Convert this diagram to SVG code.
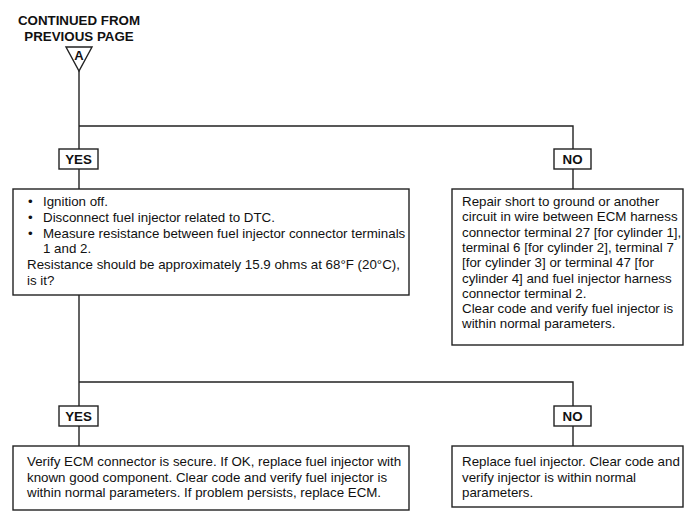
<svg xmlns="http://www.w3.org/2000/svg" width="700" height="530" viewBox="0 0 700 530">
<style>
text{font-family:"Liberation Sans",Arial,sans-serif;font-size:13.33px;fill:#111}
.lbl{font-weight:bold;text-anchor:middle}
.box{fill:#fff;stroke:#222;stroke-width:1.4}
.ln{fill:none;stroke:#222;stroke-width:1.4}
</style>
<rect width="700" height="530" fill="#fff"/>
<g id="connectors">
<path class="ln" d="M79 71V189M79 126H573V189M79 295V446M79 382H573V446"/>
</g>
<g id="start">
<text class="lbl" x="79" y="25">CONTINUED FROM</text>
<text class="lbl" x="79" y="41">PREVIOUS PAGE</text>
<polygon class="box" points="66,47 92,47 79,71"/>
<text class="lbl" x="79" y="60" style="font-size:13px">A</text>
</g>
<g id="yes1"><rect class="box" x="59" y="149" width="39" height="20"/><text class="lbl" x="78.5" y="164">YES</text></g>
<g id="no1"><rect class="box" x="554" y="149" width="37" height="20"/><text class="lbl" x="572.5" y="164">NO</text></g>
<g id="check">
<rect class="box" x="13" y="189" width="396" height="106"/>
<text x="28" y="206">•</text><text x="43" y="206">Ignition off.</text>
<text x="28" y="222">•</text><text x="43" y="222">Disconnect fuel injector related to DTC.</text>
<text x="28" y="238">•</text><text x="43" y="238">Measure resistance between fuel injector connector terminals</text>
<text x="43" y="253">1 and 2.</text>
<text x="27" y="269">Resistance should be approximately 15.9 ohms at 68°F (20°C),</text>
<text x="27" y="285">is it?</text>
</g>
<g id="repair">
<rect class="box" x="452" y="189" width="231" height="156"/>
<text x="462" y="206">Repair short to ground or another</text>
<text x="462" y="221.3">circuit in wire between ECM harness</text>
<text x="462" y="236.6">connector terminal 27 [for cylinder 1],</text>
<text x="462" y="251.9">terminal 6 [for cylinder 2], terminal 7</text>
<text x="462" y="267.2">[for cylinder 3] or terminal 47 [for</text>
<text x="462" y="282.5">cylinder 4] and fuel injector harness</text>
<text x="462" y="297.8">connector terminal 2.</text>
<text x="462" y="313.1">Clear code and verify fuel injector is</text>
<text x="462" y="328.4">within normal parameters.</text>
</g>
<g id="yes2"><rect class="box" x="59" y="406" width="39" height="20"/><text class="lbl" x="78.5" y="421">YES</text></g>
<g id="no2"><rect class="box" x="554" y="406" width="37" height="20"/><text class="lbl" x="572.5" y="421">NO</text></g>
<g id="verify">
<rect class="box" x="13" y="446" width="396" height="64"/>
<text x="27" y="466">Verify ECM connector is secure. If OK, replace fuel injector with</text>
<text x="27" y="481.5">known good component. Clear code and verify fuel injector is</text>
<text x="27" y="497">within normal parameters. If problem persists, replace ECM.</text>
</g>
<g id="replace">
<rect class="box" x="452" y="446" width="231" height="61"/>
<text x="462" y="466">Replace fuel injector. Clear code and</text>
<text x="462" y="481.5">verify injector is within normal</text>
<text x="462" y="497">parameters.</text>
</g>
</svg>
